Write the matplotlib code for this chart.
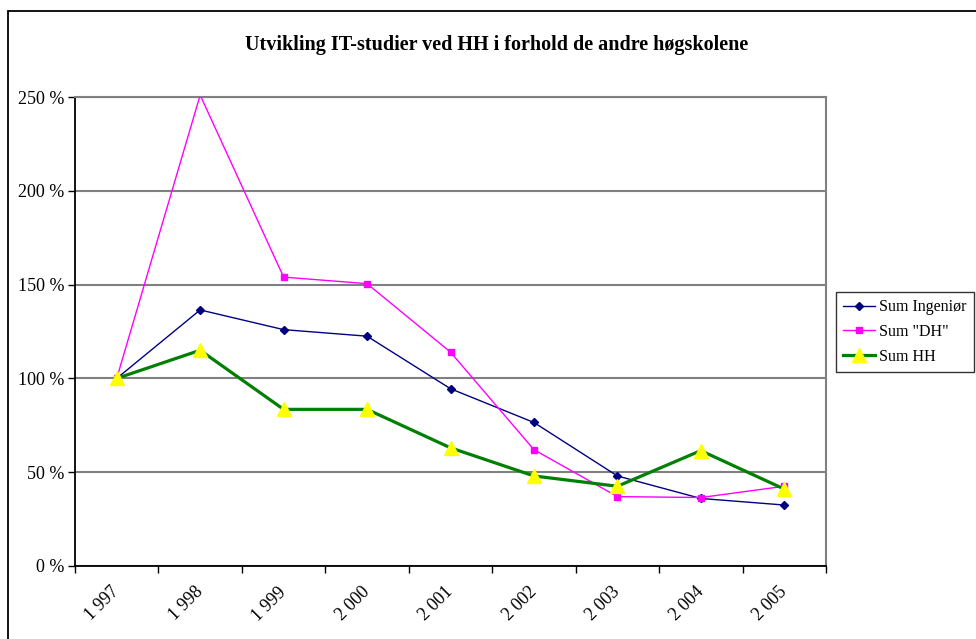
import matplotlib.pyplot as plt
from matplotlib.patches import Rectangle

# Data (percent of 1997 level)
years = ['1 997', '1 998', '1 999', '2 000', '2 001', '2 002', '2 003', '2 004', '2 005']
ingenior = [100, 136.5, 126, 122.5, 94.5, 76.5, 48, 36, 32.5]
dh = [100, 251, 154, 150.5, 114, 62, 37, 36.5, 42.5]
hh = [100, 115, 83.5, 83.5, 63, 48, 42.5, 61.5, 41]

plt.rcParams['font.family'] = ['Liberation Serif', 'DejaVu Serif']

fig = plt.figure(figsize=(9.76, 6.39), dpi=100)
ax = fig.add_axes([75 / 976, 1 - 566 / 639, (826 - 75) / 976, (566 - 97) / 639])

# outer chart frame (cut off at right and bottom like the reference)
fig.patches.append(Rectangle((8 / 976, -0.1), 1.2, 1 - 11 / 639 + 0.1,
                             transform=fig.transFigure, fill=False,
                             edgecolor='black', linewidth=1.3, zorder=0))

x = list(range(len(years)))
ax.plot(x, ingenior, color='#000080', linewidth=1.0, marker='D', markersize=4.5,
        markerfacecolor='#000080', markeredgecolor='#000080', label='Sum Ingeniør', zorder=3)
dh_marks = [i for i, v in enumerate(dh) if v <= 250]
ax.plot(x, dh, color='#FF00FF', linewidth=1.0, marker='s', markersize=5,
        markerfacecolor='#FF00FF', markeredgecolor='#FF00FF', markevery=dh_marks,
        label='Sum "DH"', zorder=3)
ax.plot(x, hh, color='#008000', linewidth=2.3, marker='^', markersize=9.5,
        markerfacecolor='#FFFF00', markeredgecolor='#FFFF00', label='Sum HH', zorder=4)

ax.set_xlim(-0.5, len(years) - 0.5)
ax.set_ylim(0, 250)
ax.set_yticks([0, 50, 100, 150, 200, 250])
ax.set_yticklabels(['0 %', '50 %', '100 %', '150 %', '200 %', '250 %'], fontsize=13)
ax.yaxis.grid(True, color='#808080', linewidth=1.5)
ax.set_axisbelow(True)

# category boundaries as major ticks, labels at centers
ax.set_xticks([i - 0.5 for i in range(len(years) + 1)])
ax.set_xticklabels([])
ax.set_xticks(x, minor=True)
ax.set_xticklabels(years, minor=True, rotation=45, ha='right', va='center',
                   rotation_mode='anchor', fontsize=13)
ax.tick_params(axis='x', which='major', direction='out', length=5, width=1)
ax.tick_params(axis='x', which='minor', length=0, pad=17)
ax.tick_params(axis='y', direction='out', length=5, width=1, pad=2.5)

for s in ['left', 'bottom']:
    ax.spines[s].set_color('black')
    ax.spines[s].set_linewidth(1.3)
for s in ['top', 'right']:
    ax.spines[s].set_color('#808080')
    ax.spines[s].set_linewidth(1.5)

fig.text(497 / 976, 1 - 45 / 639, 'Utvikling IT-studier ved HH i forhold de andre høgskolene',
         ha='center', va='center', fontsize=14.5, fontweight='bold')

leg = fig.legend(loc='center left', bbox_to_anchor=(836 / 976, 1 - 332 / 639),
                 fontsize=11.5, frameon=True, fancybox=False, edgecolor='black',
                 handlelength=2.0, borderpad=0.45, labelspacing=0.55, handletextpad=0.25,
                 borderaxespad=0)
leg.get_frame().set_linewidth(1.0)

fig.savefig('out.png', dpi=100)
